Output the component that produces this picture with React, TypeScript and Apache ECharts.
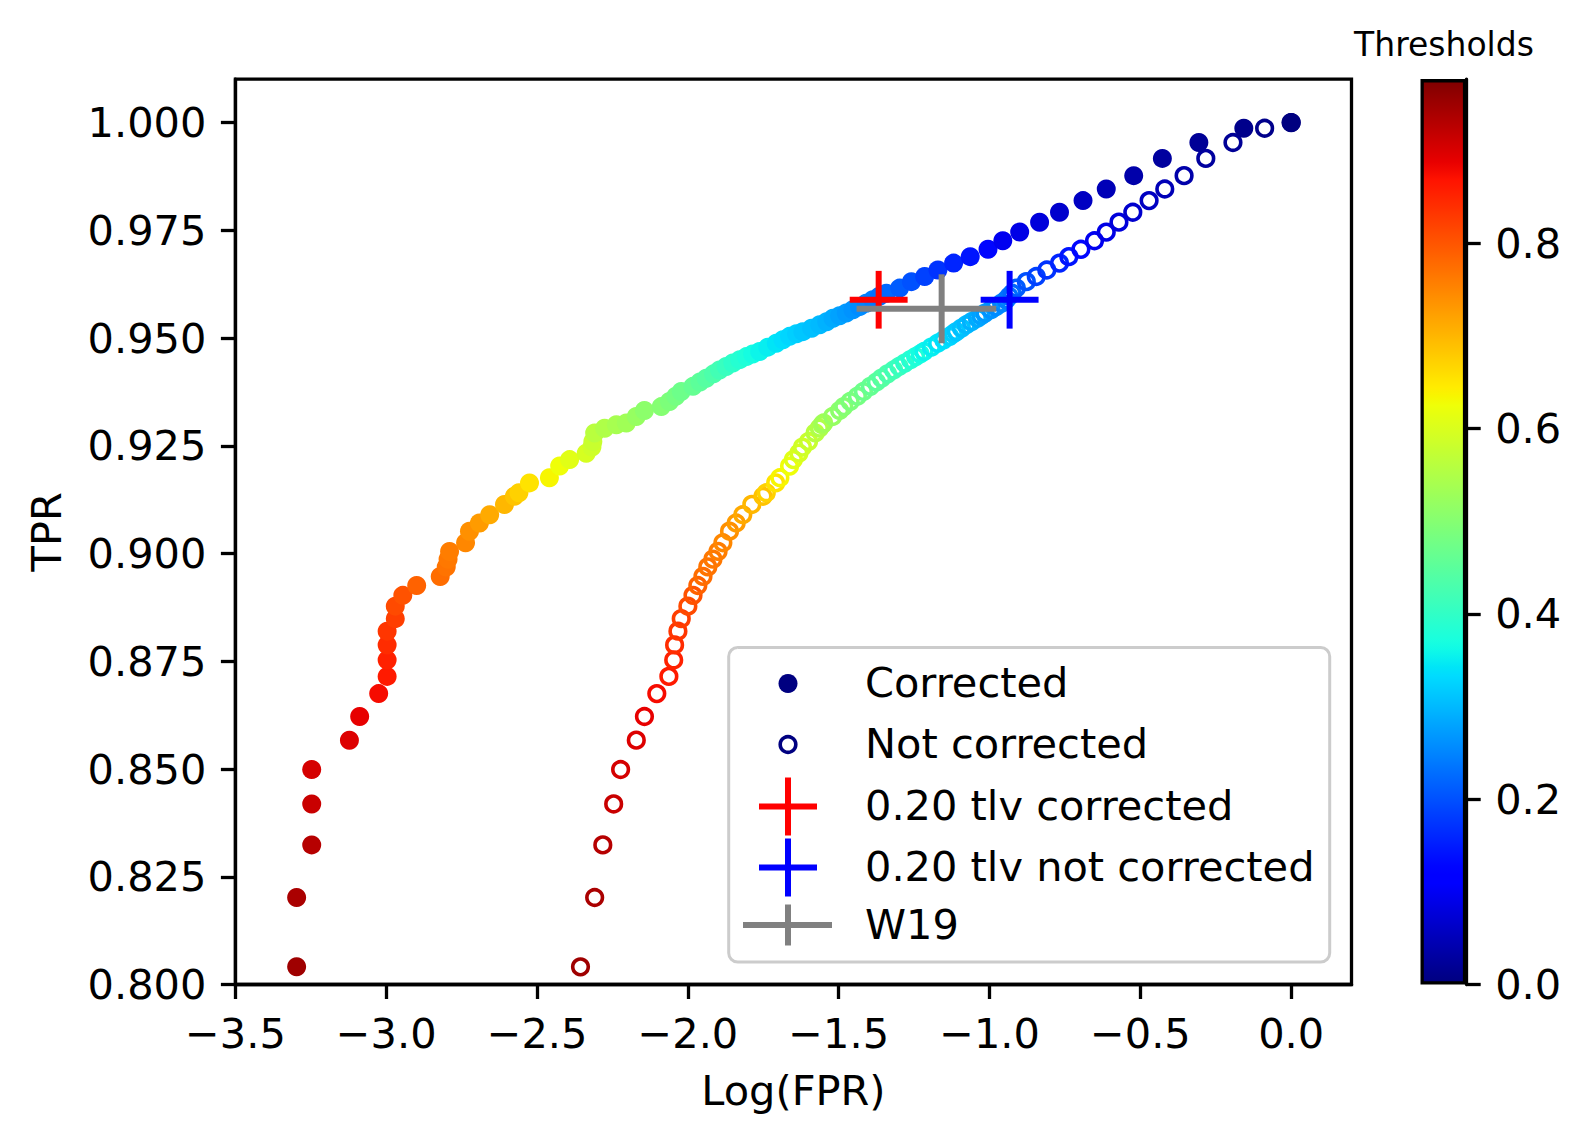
import React, { useEffect, useRef } from 'react';
import * as echarts from 'echarts';

// ---------------- data ----------------
const TPR = [
  0.8041, 0.8202, 0.8324, 0.8419, 0.8499, 0.8567, 0.8622, 0.8675, 0.8715, 0.8753,
  0.8788, 0.8820, 0.8849, 0.8878, 0.8903, 0.8926, 0.8947, 0.8969, 0.8987, 0.9005,
  0.9025, 0.9052, 0.9071, 0.9090, 0.9114, 0.9133, 0.9141, 0.9164, 0.9176, 0.9203,
  0.9218, 0.9233, 0.9247, 0.9260, 0.9280, 0.9291, 0.9299, 0.9303, 0.9318, 0.9332,
  0.9341, 0.9353, 0.9365, 0.9376, 0.9388, 0.9398, 0.9407, 0.9417, 0.9426, 0.9434,
  0.9442, 0.9450, 0.9457, 0.9463, 0.9469, 0.9479, 0.9488, 0.9496, 0.9504, 0.9510,
  0.9515, 0.9523, 0.9531, 0.9538, 0.9546, 0.9552, 0.9558, 0.9566, 0.9573, 0.9581,
  0.9589, 0.9597, 0.9604, 0.9616, 0.9631, 0.9643, 0.9658, 0.9674, 0.9689, 0.9706,
  0.9726, 0.9746, 0.9769, 0.9792, 0.9819, 0.9846, 0.9877, 0.9917, 0.9954, 0.9987, 1.0,
];

const LOGFPR_CORRECTED = [
  -3.297, -3.297, -3.247, -3.247, -3.247, -3.122, -3.088, -3.025, -2.997, -2.997,
  -2.997, -2.997, -2.970, -2.970, -2.945, -2.899, -2.821, -2.801, -2.795, -2.790,
  -2.737, -2.724, -2.691, -2.657, -2.608, -2.575, -2.560, -2.525, -2.459, -2.425,
  -2.392, -2.337, -2.318, -2.315, -2.309, -2.276, -2.237, -2.204, -2.171, -2.144,
  -2.088, -2.061, -2.040, -2.022, -1.983, -1.960, -1.939, -1.915, -1.895, -1.873,
  -1.851, -1.828, -1.806, -1.785, -1.762, -1.735, -1.707, -1.685, -1.663, -1.640,
  -1.619, -1.590, -1.563, -1.540, -1.519, -1.497, -1.475, -1.453, -1.431, -1.409,
  -1.387, -1.365, -1.342, -1.298, -1.259, -1.215, -1.171, -1.119, -1.064, -1.005,
  -0.956, -0.900, -0.834, -0.768, -0.690, -0.613, -0.522, -0.427, -0.306, -0.157, 0.0,
];

const LOGFPR_NOT_CORRECTED = [
  -2.356, -2.309, -2.282, -2.246, -2.223, -2.171, -2.144, -2.103, -2.063, -2.047,
  -2.044, -2.033, -2.022, -2.000, -1.983, -1.967, -1.950, -1.934, -1.917, -1.900,
  -1.884, -1.862, -1.840, -1.818, -1.788, -1.751, -1.740, -1.709, -1.695, -1.663,
  -1.650, -1.632, -1.620, -1.600, -1.578, -1.564, -1.555, -1.550, -1.520, -1.497,
  -1.483, -1.462, -1.438, -1.418, -1.395, -1.375, -1.358, -1.338, -1.318, -1.300,
  -1.281, -1.262, -1.245, -1.230, -1.217, -1.193, -1.172, -1.152, -1.132, -1.120,
  -1.110, -1.093, -1.077, -1.060, -1.040, -1.028, -1.015, -0.995, -0.979, -0.960,
  -0.945, -0.935, -0.925, -0.911, -0.878, -0.845, -0.810, -0.768, -0.737, -0.697,
  -0.652, -0.613, -0.571, -0.525, -0.471, -0.419, -0.355, -0.283, -0.193, -0.088, 0.0,
];

const THRESHOLDS = [
  0.950, 0.941, 0.931, 0.915, 0.905, 0.898, 0.890, 0.877, 0.862, 0.855,
  0.843, 0.833, 0.825, 0.813, 0.804, 0.787, 0.776, 0.770, 0.765, 0.760,
  0.749, 0.740, 0.729, 0.713, 0.700, 0.687, 0.673, 0.655, 0.635, 0.625,
  0.609, 0.596, 0.588, 0.580, 0.562, 0.550, 0.540, 0.532, 0.520, 0.508,
  0.500, 0.490, 0.481, 0.472, 0.462, 0.452, 0.443, 0.432, 0.420, 0.408,
  0.396, 0.386, 0.377, 0.367, 0.357, 0.350, 0.342, 0.335, 0.327, 0.320,
  0.313, 0.306, 0.300, 0.292, 0.285, 0.277, 0.270, 0.263, 0.256, 0.249,
  0.242, 0.232, 0.222, 0.210, 0.199, 0.185, 0.171, 0.156, 0.142, 0.127,
  0.095, 0.086, 0.077, 0.065, 0.056, 0.047, 0.036, 0.027, 0.019, 0.010, 0.000,
];

// error-bar markers: [x, y, xerrMinus, xerrPlus, yerrMinus, yerrPlus]
const TLV_CORRECTED = [-1.3675, 0.9589, 0.096, 0.096, 0.0067, 0.0067];
const TLV_NOT_CORRECTED = [-0.9334, 0.9589, 0.096, 0.096, 0.0067, 0.0067];
const W19 = [-1.1587, 0.9568, 0.282, 0.181, 0.008, 0.008];

const X_TICKS = [-3.5, -3.0, -2.5, -2.0, -1.5, -1.0, -0.5, 0.0];
const Y_TICKS = [0.8, 0.825, 0.85, 0.875, 0.9, 0.925, 0.95, 0.975, 1.0];
const CB_TICKS = [0.0, 0.2, 0.4, 0.6, 0.8];
const CB_MAX = 0.977;
const X_RANGE = [-3.5, 0.2];
const Y_RANGE = [0.8, 1.0101];

const LEGEND_LABELS = ['Corrected', 'Not corrected', '0.20 tlv corrected', '0.20 tlv not corrected', 'W19'];

// ---------------- styling helpers ----------------
const FONT = '"DejaVu Sans", "Liberation Sans", sans-serif';
const FS = 41.5;

function interp(p: number, pts: number[][]) {
  for (let i = 1; i < pts.length; i++) {
    if (p <= pts[i][0]) {
      const [x0, y0] = pts[i - 1];
      const [x1, y1] = pts[i];
      return y0 + ((p - x0) / (x1 - x0)) * (y1 - y0);
    }
  }
  return pts[pts.length - 1][1];
}
function jet(p: number) {
  const r = interp(p, [[0, 0], [0.35, 0], [0.66, 1], [0.89, 1], [1, 0.5]]);
  const g = interp(p, [[0, 0], [0.125, 0], [0.375, 1], [0.64, 1], [0.91, 0], [1, 0]]);
  const b = interp(p, [[0, 0.5], [0.11, 1], [0.34, 1], [0.65, 0], [1, 0]]);
  return `rgb(${Math.round(r * 255)},${Math.round(g * 255)},${Math.round(b * 255)})`;
}
const JET_N = 101;
const JET_COLORS = Array.from({ length: JET_N }, (_, i) => jet(i / (JET_N - 1)));

const GRID = { left: 235.4, top: 79.1, width: 1116.1, height: 905.4 };
const CBAR = { left: 1420.5, top: 79.1, width: 45.7, height: 905.4 };

function errorBarSeries(name: string, item: number[], color: string, z: number) {
  return {
    name,
    type: 'custom',
    xAxisIndex: 0,
    yAxisIndex: 0,
    z,
    silent: true,
    encode: { x: 0, y: 1 },
    data: [item],
    renderItem: (_params: any, api: any) => {
      const x = api.value(0);
      const y = api.value(1);
      const c = api.coord([x, y]);
      const l = api.coord([x - api.value(2), y]);
      const r = api.coord([x + api.value(3), y]);
      const b = api.coord([x, y - api.value(4)]);
      const t = api.coord([x, y + api.value(5)]);
      const style = { stroke: color, lineWidth: 6, lineCap: 'butt' };
      return {
        type: 'group',
        children: [
          { type: 'line', shape: { x1: l[0], y1: c[1], x2: r[0], y2: c[1] }, style },
          { type: 'line', shape: { x1: c[0], y1: t[1], x2: c[0], y2: b[1] }, style },
        ],
      };
    },
  };
}

export default function App() {
  const ref = useRef<HTMLDivElement>(null);

  useEffect(() => {
    if (!ref.current) return;
    const chart = echarts.init(ref.current, undefined, { renderer: 'svg' });

    const hollowData = TPR.map((y, i) => [LOGFPR_NOT_CORRECTED[i], y, THRESHOLDS[i]]);
    const filledData = TPR.map((y, i) => [LOGFPR_CORRECTED[i], y, THRESHOLDS[i]]);

    const axisText = { fontSize: FS, color: '#000', fontFamily: FONT };
    const lineStyle = { color: '#000', width: 3.3 };

    const gradientStops = JET_COLORS.map((c, i) => ({ offset: i / (JET_N - 1), color: c }));

    // legend drawn like matplotlib's
    const LX = 788;
    const TX = 865;
    const ROWS = [683.5, 744.5, 806.5, 867.5, 925];
    const legendGraphics: any[] = [
      {
        type: 'rect', z: 100,
        shape: { x: 728.7, y: 647.5, width: 601, height: 314.5, r: 9 },
        style: { fill: 'rgba(255,255,255,0.8)', stroke: '#cccccc', lineWidth: 3 },
      },
      { type: 'circle', z: 101, shape: { cx: LX, cy: ROWS[0], r: 9.5 }, style: { fill: '#000080' } },
      {
        type: 'circle', z: 101, shape: { cx: LX, cy: ROWS[1], r: 7.8 },
        style: { fill: 'none', stroke: '#000080', lineWidth: 3.6 },
      },
      { type: 'line', z: 101, shape: { x1: 759, y1: ROWS[2], x2: 817, y2: ROWS[2] }, style: { stroke: '#ff0000', lineWidth: 6 } },
      { type: 'line', z: 101, shape: { x1: LX, y1: ROWS[2] - 29, x2: LX, y2: ROWS[2] + 29 }, style: { stroke: '#ff0000', lineWidth: 6 } },
      { type: 'line', z: 101, shape: { x1: 759, y1: ROWS[3], x2: 817, y2: ROWS[3] }, style: { stroke: '#0000ff', lineWidth: 6 } },
      { type: 'line', z: 101, shape: { x1: LX, y1: ROWS[3] - 29, x2: LX, y2: ROWS[3] + 29 }, style: { stroke: '#0000ff', lineWidth: 6 } },
      { type: 'line', z: 101, shape: { x1: 743, y1: ROWS[4], x2: 832, y2: ROWS[4] }, style: { stroke: '#808080', lineWidth: 6 } },
      { type: 'line', z: 101, shape: { x1: LX, y1: ROWS[4] - 20.5, x2: LX, y2: ROWS[4] + 20.5 }, style: { stroke: '#808080', lineWidth: 6 } },
      ...LEGEND_LABELS.map((label, i) => ({
        type: 'text', z: 101, x: TX, y: ROWS[i] - 1,
        style: {
          text: label, fill: '#000', fontSize: FS, fontFamily: FONT,
          align: 'left', verticalAlign: 'middle',
        },
      })),
      {
        type: 'text', z: 101, x: 1444, y: 44.6,
        style: {
          text: 'Thresholds', fill: '#000', fontSize: 33, fontFamily: FONT,
          align: 'center', verticalAlign: 'middle',
        },
      },
    ];

    chart.setOption({
      animation: false,
      backgroundColor: '#ffffff',
      grid: [
        {
          ...GRID, show: true, borderColor: '#000', borderWidth: 3.3,
          backgroundColor: 'transparent', containLabel: false, outerBoundsMode: 'none',
        },
        { ...CBAR, show: false, containLabel: false, outerBoundsMode: 'none' },
      ],
      xAxis: [
        {
          type: 'value', gridIndex: 0, min: X_RANGE[0], max: X_RANGE[1],
          name: 'Log(FPR)', nameLocation: 'middle', nameGap: 85, nameTextStyle: axisText,
          axisLine: { show: true, onZero: false, lineStyle },
          axisTick: { show: true, inside: false, length: 14.5, lineStyle, customValues: X_TICKS },
          axisLabel: {
            ...axisText, margin: 28, customValues: X_TICKS,
            formatter: (v: number) => (v < -1e-9 ? '\u2212' : '') + Math.abs(v).toFixed(1),
          },
          splitLine: { show: false },
        },
        {
          type: 'category', gridIndex: 1, data: ['cbar'], show: false, boundaryGap: true,
        },
      ],
      yAxis: [
        {
          type: 'value', gridIndex: 0, min: Y_RANGE[0], max: Y_RANGE[1],
          name: 'TPR', nameLocation: 'middle', nameGap: 168, nameTextStyle: axisText,
          axisLine: { show: true, onZero: false, lineStyle },
          axisTick: { show: true, inside: false, length: 14.5, lineStyle, customValues: Y_TICKS },
          axisLabel: {
            ...axisText, margin: 29, customValues: Y_TICKS,
            formatter: (v: number) => v.toFixed(3),
          },
          splitLine: { show: false },
        },
        {
          type: 'value', gridIndex: 1, position: 'right', min: 0, max: CB_MAX,
          axisLine: { show: true, onZero: false, lineStyle },
          axisTick: { show: true, inside: false, length: 14.5, lineStyle, customValues: CB_TICKS },
          axisLabel: {
            ...axisText, margin: 29, customValues: CB_TICKS,
            formatter: (v: number) => v.toFixed(1),
          },
          splitLine: { show: false },
        },
      ],
      visualMap: {
        type: 'continuous', show: false, min: 0, max: CB_MAX, dimension: 2,
        seriesIndex: [0, 1], inRange: { color: JET_COLORS },
      },
      series: [
        {
          name: 'Not corrected',
          type: 'custom',
          xAxisIndex: 0, yAxisIndex: 0, z: 2,
          encode: { x: 0, y: 1 },
          data: hollowData,
          renderItem: (_params: any, api: any) => {
            const p = api.coord([api.value(0), api.value(1)]);
            return {
              type: 'circle',
              shape: { cx: p[0], cy: p[1], r: 7.8 },
              style: { fill: 'none', stroke: api.visual('color'), lineWidth: 3.6 },
            };
          },
        },
        {
          name: 'Corrected',
          type: 'scatter',
          xAxisIndex: 0, yAxisIndex: 0, z: 3,
          symbol: 'circle', symbolSize: 19,
          data: filledData,
          itemStyle: { opacity: 1 },
        },
        {
          name: 'Threshold colorbar',
          type: 'bar',
          xAxisIndex: 1, yAxisIndex: 1, silent: true,
          barWidth: '100%',
          data: [CB_MAX],
          itemStyle: {
            color: new echarts.graphic.LinearGradient(0, 1, 0, 0, gradientStops),
            borderColor: '#000', borderWidth: 3.3,
          },
        },
        errorBarSeries('0.20 tlv corrected', TLV_CORRECTED, '#ff0000', 5),
        errorBarSeries('0.20 tlv not corrected', TLV_NOT_CORRECTED, '#0000ff', 5),
        errorBarSeries('W19', W19, '#808080', 6),
      ],
      graphic: { elements: legendGraphics },
    });

    return () => chart.dispose();
  }, []);

  return (
    <div
      ref={ref}
      style={{ position: 'absolute', left: 0, top: 0, width: 1591, height: 1142, background: '#fff' }}
    />
  );
}
